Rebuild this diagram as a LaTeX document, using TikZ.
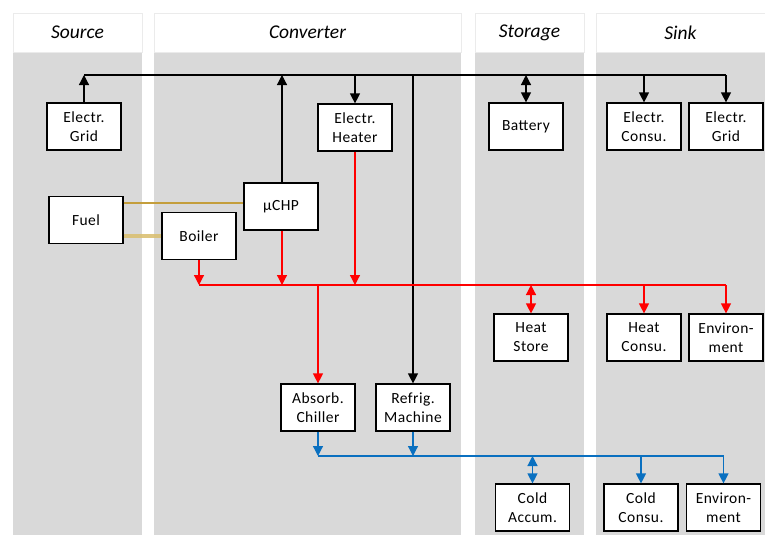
\documentclass[tikz,border=0pt]{standalone}
\usepackage{fontspec}
\setmainfont{Carlito}
\newfontfamily\boxfont[LetterSpace=3]{Carlito}
\usetikzlibrary{arrows.meta}
\definecolor{lanegray}{RGB}{217,217,217}
\definecolor{hdrline}{RGB}{235,235,235}
\definecolor{heatred}{RGB}{255,0,0}
\definecolor{coldblue}{RGB}{10,112,192}
\definecolor{fuelgold}{RGB}{196,158,60}
\definecolor{fuelgoldlight}{RGB}{218,192,115}
\tikzset{
  comp/.style={draw=black,fill=white,line width=1.2pt,minimum width=74pt,minimum height=47pt,inner sep=0pt,align=center,font=\boxfont\fontsize{15.5}{19}\selectfont},
  hdr/.style={draw=hdrline,fill=white,line width=0.6pt,inner sep=0pt,font=\itshape\fontsize{19.5}{22}\selectfont},
  lane/.style={fill=lanegray,draw=none},
  tip/.style={-{Triangle[length=10pt,width=10pt]}},
  dtip/.style={{Triangle[length=10pt,width=10pt]}-{Triangle[length=10pt,width=10pt]}},
  elec/.style={draw=black,line width=1.2pt},
  heat/.style={draw=heatred,line width=1.2pt},
  cold/.style={draw=coldblue,line width=1.2pt},
}
\begin{document}
\begin{tikzpicture}[x=1pt,y=-1pt]
\useasboundingbox (0,0) rectangle (765,535);
% lanes
\fill[lane] (13,52) rectangle (142,535);
\fill[lane] (154,52) rectangle (461,535);
\fill[lane] (475,52) rectangle (584,535);
\fill[lane] (596,52) rectangle (765,535);
% headers
\node[hdr,minimum width=129pt,minimum height=39pt] (hsource) at (77.5,32.5) {Source};
\node[hdr,minimum width=307pt,minimum height=39pt] (hconv) at (307.5,32.5) {Converter};
\node[hdr,minimum width=109pt,minimum height=39pt] (hstor) at (529.5,32.5) {Storage};
\node[hdr,minimum width=169pt,minimum height=39pt] (hsink) at (680.5,32.5) {Sink};
% components
\node[comp] (sgrid) at (84,126.5) {Electr.\\Grid};
\node[comp] (heater) at (355,127.5) {Electr.\\Heater};
\node[comp] (battery) at (526,126.5) {Battery};
\node[comp] (econs) at (644,126.5) {Electr.\\Consu.};
\node[comp] (kgrid) at (726,126.5) {Electr.\\Grid};
\node[comp] (fuel) at (86,220) {Fuel};
\node[comp] (boiler) at (199,236) {Boiler};
\node[comp] (chp) at (281,206.5) {µCHP};
\node[comp] (hstore) at (531,337.5) {Heat\\Store};
\node[comp] (hcons) at (644,337.5) {Heat\\Consu.};
\node[comp] (henv) at (726,337.5) {Environ-\\ment};
\node[comp] (chiller) at (318,407.5) {Absorb.\\Chiller};
\node[comp] (refrig) at (413,407.5) {Refrig.\\Machine};
\node[comp] (caccum) at (532.5,507.5) {Cold\\Accum.};
\node[comp] (ccons) at (641,507.5) {Cold\\Consu.};
\node[comp] (cenv) at (723.5,507.5) {Environ-\\ment};
% bus coordinates
\coordinate (eb1) at (84,75);
\coordinate (eb2) at (726,75);
\coordinate (hb1) at (199,285);
\coordinate (hb2) at (726,285);
\coordinate (cb1) at (318,456);
\coordinate (cb2) at (723.5,456);
% fuel lines
\draw[draw=fuelgold,line width=1.2pt] (fuel.east |- 0,203) -- (chp.west |- 0,203);
\draw[draw=fuelgoldlight,line width=3.4pt,opacity=0.9] (fuel.east |- 0,236) -- (boiler.west);
% electricity
\draw[elec] (eb1) -- (eb2);
\draw[elec,tip] (sgrid.north) -- (eb1);
\draw[elec,tip] (chp.north -| 282,0) -- (282,75);
\draw[elec,tip] (heater.north |- eb1) -- (heater.north);
\draw[elec,tip] (413,75) -- (refrig.north);
\draw[elec,dtip] (battery.north |- eb1) -- (battery.north);
\draw[elec,tip] (econs.north |- eb1) -- (econs.north);
\draw[elec,tip] (eb2) -- (kgrid.north);
% heat
\draw[heat] (hb1) -- (hb2);
\draw[heat,tip] (boiler.south) -- (hb1);
\draw[heat,tip] (chp.south -| 282,0) -- (282,285);
\draw[heat,tip] (heater.south) -- (heater.south |- hb1);
\draw[heat,tip] (chiller.north |- hb1) -- (chiller.north);
\draw[heat,dtip] (hstore.north |- hb1) -- (hstore.north);
\draw[heat,tip] (hcons.north |- hb1) -- (hcons.north);
\draw[heat,tip] (hb2) -- (henv.north);
% cold
\draw[cold] (cb1) -- (cb2);
\draw[cold,tip] (chiller.south) -- (cb1);
\draw[cold,tip] (refrig.south) -- (refrig.south |- cb1);
\draw[cold,dtip] (caccum.north |- cb1) -- (caccum.north);
\draw[cold,tip] (ccons.north |- cb1) -- (ccons.north);
\draw[cold,tip] (cb2) -- (cenv.north);
\end{tikzpicture}
\end{document}
